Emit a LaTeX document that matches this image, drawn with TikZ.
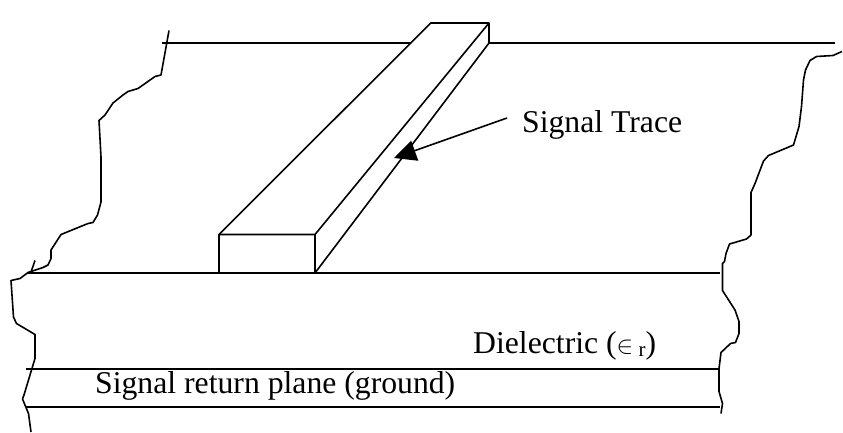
\documentclass[tikz,border=0pt]{standalone}
\usepackage{fontspec}
\setmainfont{Liberation Serif}
\usetikzlibrary{arrows.meta}

\tikzset{
    outline/.style={line width=1.6pt, line join=round},
    label/.style={anchor=base west, inner sep=0pt, font=\fontsize{31.7}{36}\selectfont},
    pointer/.style={line width=1.6pt, -{Triangle[length=22pt, width=21pt]}}
}

\begin{document}
\begin{tikzpicture}[x=1pt, y=-1pt]
    \useasboundingbox (0, 0) rectangle (843, 432);

    % Dielectric top and far edge
    \draw[outline] (162, 43) -- (835, 43);
    \draw[outline] (27, 273) -- (720, 273);

    % Ground plane
    \draw[outline] (26, 369) -- (719, 369);
    \draw[outline] (26, 407) -- (720, 407);

    % Left torn edge
    \draw[outline] (169, 30.5) -- (161, 75) -- (155, 76.5) -- (138, 88.5) -- (128, 91.5) -- (123, 95)
        -- (113, 103) -- (105, 115) -- (99, 120.5) -- (101, 157) -- (101, 202) -- (97.5, 215) -- (93, 222.5)
        -- (88, 223.5) -- (61, 234.5) -- (51, 250) -- (51, 258.5) -- (48, 265) -- (43, 267.5) -- (28, 272.5)
        -- (20, 278.5) -- (11, 280.5) -- (13.5, 317) -- (16.5, 323.5) -- (35, 334.5) -- (35, 358.5)
        -- (31.5, 370) -- (24, 395) -- (22.5, 399) -- (28.5, 413.5) -- (31, 432);
    \draw[outline] (35, 260.5) -- (30.5, 273.5);

    % Right torn edge
    \draw[outline] (842, 51.5) -- (833, 55.5) -- (816.5, 56.5) -- (810, 60.5) -- (805.5, 70) -- (803.5, 80)
        -- (801.5, 106.5) -- (799, 126.5) -- (793.5, 145) -- (768.5, 155.5) -- (763.5, 161) -- (755, 183.5)
        -- (751, 192.5) -- (751, 235) -- (746.5, 239) -- (729.5, 244) -- (726, 253.5) -- (724.5, 261.5)
        -- (722.5, 263.5) -- (722.5, 290.5) -- (735, 310) -- (739, 321.5) -- (739, 333.5) -- (735.5, 342.5)
        -- (730.5, 343.5) -- (721, 352.5) -- (719, 368.5) -- (719, 391.5) -- (722.5, 403.5) -- (721, 413.5);

    % Trace
    \draw[outline, fill=white] (219, 234.5) -- (430.7, 23) -- (489, 23) -- (489, 43)
        -- (315, 273) -- (219, 273) -- cycle;
    \draw[outline] (219, 234.5) -- (315, 234.5) -- (489, 23);
    \draw[outline] (315, 234.5) -- (315, 273);

    % Labels
    \node[label] (tracelabel) at (522, 132.5) {Signal Trace};
    \node[label] (dielectric) at (473, 353) {Dielectric ($\in$\,\raisebox{-3pt}{\fontsize{21}{24}\selectfont r})};
    \node[label] (ground) at (95, 393) {Signal return plane (ground)};

    % Arrow to the trace
    \coordinate (arrowtail) at (507, 118);
    \coordinate (arrowtip) at (394, 158);
    \draw[pointer] (arrowtail) -- (arrowtip);
\end{tikzpicture}
\end{document}
